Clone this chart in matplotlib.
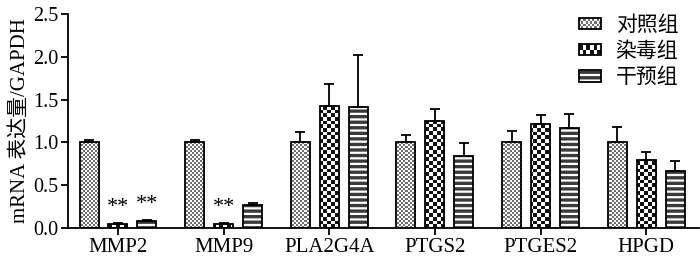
import numpy as np
import matplotlib.pyplot as plt
from matplotlib.colors import ListedColormap
from matplotlib.patches import Rectangle
from matplotlib.legend_handler import HandlerBase

plt.rcParams['font.family'] = ['Liberation Serif', 'Noto Sans CJK SC']
plt.rcParams['hatch.linewidth'] = 1.6

# data
genes = ['MMP2', 'MMP9', 'PLA2G4A', 'PTGS2', 'PTGES2', 'HPGD']
groups = ['对照组', '染毒组', '干预组']
control = [1.00, 1.00, 1.00, 1.00, 1.00, 1.00]
control_err = [0.03, 0.03, 0.12, 0.09, 0.13, 0.18]
exposed = [0.05, 0.05, 1.42, 1.25, 1.22, 0.79]
exposed_err = [0.01, 0.01, 0.26, 0.14, 0.10, 0.10]
treated = [0.08, 0.27, 1.41, 0.84, 1.17, 0.67]
treated_err = [0.01, 0.02, 0.61, 0.15, 0.16, 0.11]
marked = [(0, 1), (0, 2), (1, 1)]  # (gene, group) with **

fig = plt.figure(figsize=(7, 2.57), dpi=100)
ax = fig.add_axes([68/700, 29/257, 631/700, 214/257])

x = np.arange(len(genes))
offs = [-0.274, 0.0, 0.274]
width = 0.18
xlim = (-0.473, 5.5)
ylim = (0, 2.5)

# checker textures, sized in pixels of the axes (631 x 214)
def checker(sq):
    nx, ny = int(round(631/sq)), int(round(214/sq))
    return np.indices((ny, nx)).sum(axis=0) % 2

fine = checker(2.0)
coarse = checker(3.7)

series = [control, exposed, treated]
errs = [control_err, exposed_err, treated_err]
for k in range(3):
    bars = ax.bar(x + offs[k], series[k], width, color='#3a3a3a' if k == 2 else 'white',
                  edgecolor='white' if k == 2 else 'none', hatch='---' if k == 2 else None,
                  linewidth=0, zorder=1)
    if k < 2:
        tex = fine if k == 0 else coarse
        cmap = ListedColormap(['white', '#707070' if k == 0 else '#111111'])
        for b in bars:
            im = ax.imshow(tex, extent=(*xlim, *ylim), origin='lower', cmap=cmap,
                           interpolation='nearest', aspect='auto', zorder=1.5)
            im.set_clip_path(b)
    # outline
    ax.bar(x + offs[k], series[k], width, facecolor='none', edgecolor='black',
           linewidth=1.3, zorder=2)
    ax.errorbar(x + offs[k], series[k], yerr=[np.zeros(len(x)), errs[k]], fmt='none',
                ecolor='black', elinewidth=1.3, capsize=3.5, capthick=1.3, zorder=3)

for g, k in marked:
    top = series[k][g] + errs[k][g]
    ax.text(x[g] + offs[k], top + 0.07, '**', ha='center', va='bottom', fontsize=16)

ax.set_xlim(*xlim)
ax.set_ylim(*ylim)
ax.set_xticks(x)
ax.set_xticklabels(genes, fontsize=15)
ax.set_yticks(np.arange(0, 2.51, 0.5))
ax.set_yticklabels(['%.1f' % v for v in np.arange(0, 2.51, 0.5)], fontsize=14.5)
ax.set_ylabel('mRNA 表达量/GAPDH', fontsize=15, labelpad=2)
ax.spines['top'].set_visible(False)
ax.spines['right'].set_visible(False)
ax.spines['left'].set_linewidth(1.3)
ax.spines['bottom'].set_linewidth(1.3)
ax.tick_params(length=5, width=1.3, pad=2)


class SwatchHandler(HandlerBase):
    def __init__(self, kind):
        super().__init__()
        self.kind = kind

    def create_artists(self, legend, orig_handle, xdescent, ydescent, width, height,
                       fontsize, trans):
        x0, y0 = -xdescent, -ydescent
        arts = []
        if self.kind == 2:
            arts.append(Rectangle((x0, y0), width, height, facecolor='#3a3a3a',
                                  edgecolor='white', hatch='---', linewidth=0, transform=trans))
        else:
            arts.append(Rectangle((x0, y0), width, height, facecolor='white',
                                  edgecolor='none', transform=trans))
            nx, ny = (10, 4) if self.kind == 0 else (6, 2)
            dark = '#707070' if self.kind == 0 else '#111111'
            dx, dy = width/nx, height/ny
            for i in range(nx):
                for j in range(ny):
                    if (i + j) % 2:
                        arts.append(Rectangle((x0 + i*dx, y0 + j*dy), dx, dy, facecolor=dark,
                                              edgecolor='none', transform=trans))
        arts.append(Rectangle((x0, y0), width, height, facecolor='none', edgecolor='black',
                              linewidth=1.3, transform=trans))
        return arts


handles = [Rectangle((0, 0), 1, 1) for _ in groups]
ax.legend(handles, groups, loc='upper right', bbox_to_anchor=(0.967, 1.0), frameon=False,
          handlelength=1.05, handleheight=0.45, labelspacing=0.2,
          handletextpad=0.7, borderpad=0, borderaxespad=0,
          handler_map={h: SwatchHandler(i) for i, h in enumerate(handles)},
          prop={'family': ['Noto Sans CJK SC'], 'size': 15})

fig.savefig('out.png', dpi=100)
